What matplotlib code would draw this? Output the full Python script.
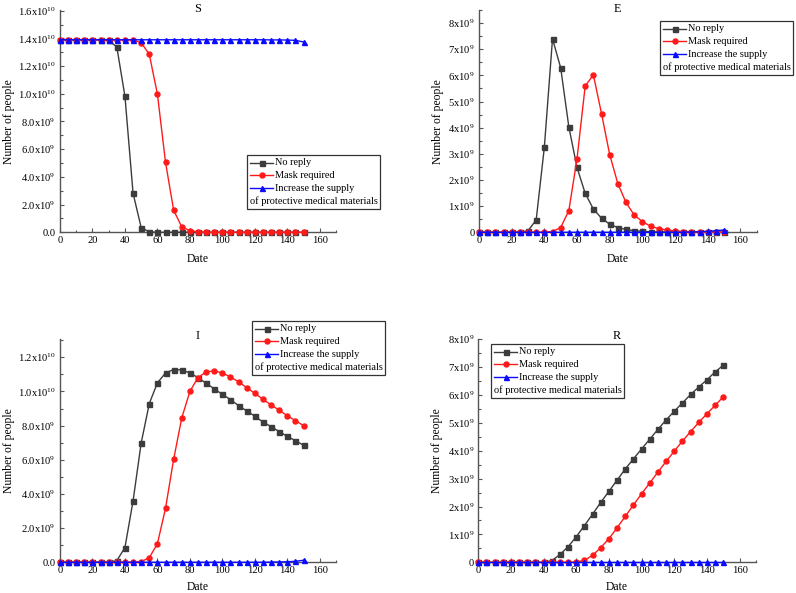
import matplotlib
matplotlib.use('Agg')
import matplotlib.pyplot as plt
from matplotlib.lines import Line2D
from matplotlib.offsetbox import AnchoredOffsetbox, VPacker, HPacker, DrawingArea, TextArea
from matplotlib.ticker import FixedLocator, FixedFormatter, MultipleLocator

plt.rcParams['font.family'] = ['Liberation Serif', 'DejaVu Serif']
plt.rcParams['mathtext.fontset'] = 'custom'
plt.rcParams['mathtext.rm'] = 'Liberation Serif'
plt.rcParams['mathtext.it'] = 'Liberation Serif:italic'

# ---------------- data (people, in units of 1e9) ----------------
UNIT = 1e9
days = list(range(0, 155, 5))

series_labels = ["No reply", "Mask required", "Increase the supply"]
legend_extra = "of protective medical materials"
series_colors = ["#3c3c3c", "#ff1a1a", "#0a0aff"]
series_markers = ["s", "o", "^"]

S_no_reply = [13.9, 13.9, 13.9, 13.9, 13.9, 13.9, 13.85, 13.38, 9.82, 2.82, 0.34, 0.03,
              0, 0, 0, 0, 0, 0, 0, 0, 0, 0, 0, 0, 0, 0, 0, 0, 0, 0, 0]
S_mask = [13.9, 13.9, 13.9, 13.9, 13.9, 13.9, 13.9, 13.9, 13.9, 13.88, 13.69, 12.85, 9.98,
          5.05, 1.59, 0.39, 0.12, 0.03, 0, 0, 0, 0, 0, 0, 0, 0, 0, 0, 0, 0, 0]
S_supply = [13.9, 13.9, 13.9, 13.9, 13.9, 13.9, 13.9, 13.9, 13.9, 13.9, 13.9, 13.9, 13.9,
            13.9, 13.9, 13.9, 13.9, 13.9, 13.9, 13.9, 13.9, 13.9, 13.9, 13.9, 13.9, 13.9,
            13.89, 13.89, 13.88, 13.86, 13.74]

E_no_reply = [0, 0, 0, 0, 0, 0, 0.06, 0.47, 3.25, 7.40, 6.29, 4.03, 2.48, 1.49, 0.89,
              0.54, 0.31, 0.18, 0.11, 0.06, 0.04, 0.02, 0.01, 0.01, 0.01, 0.01, 0.01,
              0.01, 0.01, 0.01, 0.01]
E_mask = [0, 0, 0, 0, 0, 0, 0, 0, 0, 0.03, 0.18, 0.83, 2.81, 5.59, 6.02, 4.54, 2.97,
          1.86, 1.14, 0.66, 0.41, 0.23, 0.14, 0.09, 0.05, 0.03, 0.02, 0.01, 0.01, 0, 0]
E_supply = [0, 0, 0, 0, 0, 0, 0, 0, 0, 0, 0, 0, 0, 0, 0, 0, 0, 0, 0, 0, 0, 0, 0, 0, 0,
            0, 0.01, 0.02, 0.04, 0.06, 0.09]

I_no_reply = [0, 0, 0, 0, 0, 0, 0, 0.1, 0.86, 3.59, 6.98, 9.29, 10.5, 11.08, 11.28,
              11.26, 11.08, 10.81, 10.48, 10.15, 9.83, 9.52, 9.17, 8.86, 8.55, 8.21,
              7.94, 7.65, 7.37, 7.12, 6.85]
I_mask = [0, 0, 0, 0, 0, 0, 0, 0, 0, 0, 0.04, 0.27, 1.09, 3.16, 6.03, 8.45, 10.0, 10.81,
          11.14, 11.2, 11.08, 10.85, 10.56, 10.22, 9.89, 9.54, 9.21, 8.9, 8.58, 8.29, 8.0]
I_supply = [0, 0, 0, 0, 0, 0, 0, 0, 0, 0, 0, 0, 0, 0, 0, 0, 0, 0, 0, 0, 0, 0, 0, 0, 0,
            0, 0.01, 0.02, 0.03, 0.06, 0.12]

R_no_reply = [0, 0, 0, 0, 0, 0, 0, 0, 0, 0.06, 0.28, 0.56, 0.92, 1.32, 1.73, 2.15, 2.55,
              2.95, 3.35, 3.71, 4.07, 4.42, 4.77, 5.11, 5.42, 5.72, 6.02, 6.29, 6.55,
              6.83, 7.07]
R_mask = [0, 0, 0, 0, 0, 0, 0, 0, 0, 0, 0, 0, 0.01, 0.07, 0.25, 0.53, 0.85, 1.24, 1.65,
          2.06, 2.46, 2.85, 3.24, 3.62, 3.99, 4.35, 4.69, 5.02, 5.33, 5.63, 5.94]
R_supply = [0] * 31

x_ticks = [0, 20, 40, 60, 80, 100, 120, 140, 160]

yt_S = [0, 2, 4, 6, 8, 10, 12, 14, 16]
yl_S = ['0.0', r'$\mathregular{2.0x10^{9}}$', r'$\mathregular{4.0x10^{9}}$',
        r'$\mathregular{6.0x10^{9}}$', r'$\mathregular{8.0x10^{9}}$',
        r'$\mathregular{1.0x10^{10}}$', r'$\mathregular{1.2x10^{10}}$',
        r'$\mathregular{1.4x10^{10}}$', r'$\mathregular{1.6x10^{10}}$']
yt_E = [0, 1, 2, 3, 4, 5, 6, 7, 8]
yl_E = ['0'] + [r'$\mathregular{%dx10^{9}}$' % k for k in range(1, 9)]
yt_I = [0, 2, 4, 6, 8, 10, 12]
yl_I = ['0.0', r'$\mathregular{2.0x10^{9}}$', r'$\mathregular{4.0x10^{9}}$',
        r'$\mathregular{6.0x10^{9}}$', r'$\mathregular{8.0x10^{9}}$',
        r'$\mathregular{1.0x10^{10}}$', r'$\mathregular{1.2x10^{10}}$']
yt_R = [0, 1, 2, 3, 4, 5, 6, 7, 8]
yl_R = ['0'] + [r'$\mathregular{%dx10^{9}}$' % k for k in range(1, 9)]

# ---------------- layout ----------------
W, H = 796, 593
fig = plt.figure(figsize=(W / 100, H / 100), dpi=100)


def rect(l, r, t, b):
    return [l / W, 1 - b / H, (r - l) / W, (b - t) / H]


panels = [
    dict(title="S", rect=rect(60, 336, 10, 232.3), ylim=16.05, yt=yt_S, yl=yl_S, minor=1,
         data=[S_no_reply, S_mask, S_supply], leg=(247, 155), ylab_x=-0.162, xlab_y=-0.093,
         ty=0.99),
    dict(title="E", rect=rect(479, 756.7, 10, 232.3), ylim=8.5, yt=yt_E, yl=yl_E, minor=0.5,
         data=[E_no_reply, E_mask, E_supply], leg=(660, 21), ylab_x=-0.126, xlab_y=-0.093,
         ty=0.99),
    dict(title="I", rect=rect(60, 336, 339.3, 562.3), ylim=13.05, yt=yt_I, yl=yl_I, minor=1,
         data=[I_no_reply, I_mask, I_supply], leg=(252, 321), ylab_x=-0.162, xlab_y=-0.084,
         ty=1.0),
    dict(title="R", rect=rect(478.3, 756, 339.3, 562.3), ylim=8.0, yt=yt_R, yl=yl_R, minor=0.5,
         data=[R_no_reply, R_mask, R_supply], leg=(491, 344), ylab_x=-0.126, xlab_y=-0.084,
         ty=1.0),
]

SPINE = "#555555"
FS_TICK = 7.6
FS_LAB = 8.4
FS_LEG = 7.4


def add_legend(x_px, y_px):
    rows = []
    for color, marker, label in zip(series_colors, series_markers, series_labels):
        da = DrawingArea(17, 7, 0, 0)
        da.add_artist(Line2D([0, 17], [3.5, 3.5], color=color, lw=1.0))
        da.add_artist(Line2D([8.5], [3.5], marker=marker, color=color, mec=color,
                             ms=3.6, lw=0))
        ta = TextArea(label, textprops=dict(size=FS_LEG, color="black"))
        rows.append(HPacker(children=[da, ta], align="center", pad=0, sep=1.2))
    rows.append(HPacker(children=[TextArea(legend_extra, textprops=dict(size=FS_LEG))],
                        pad=0, sep=0))
    vp = VPacker(children=rows, align="left", pad=0, sep=2.2)
    box = AnchoredOffsetbox(loc="upper left", child=vp, pad=0.2, borderpad=0,
                            frameon=True, bbox_to_anchor=(x_px / W, 1 - y_px / H),
                            bbox_transform=fig.transFigure,
                            prop=dict(size=10))
    box.patch.set_boxstyle("square", pad=0)
    box.patch.set_edgecolor("#333333")
    box.patch.set_linewidth(0.9)
    fig.add_artist(box)


for p in panels:
    ax = fig.add_axes(p["rect"])
    for vals, color, marker, label in zip(p["data"], series_colors, series_markers,
                                          series_labels):
        ax.plot(days, [v * UNIT for v in vals], color=color, marker=marker, ms=3.6,
                mec=color, mfc=color, lw=1.0, label=label, clip_on=False, zorder=3)
    ax.set_xlim(0, 170)
    ax.set_ylim(0, p["ylim"] * UNIT)
    ax.xaxis.set_major_locator(FixedLocator(x_ticks))
    ax.xaxis.set_minor_locator(MultipleLocator(10))
    ax.yaxis.set_major_locator(FixedLocator([v * UNIT for v in p["yt"]]))
    ax.yaxis.set_major_formatter(FixedFormatter(p["yl"]))
    ax.yaxis.set_minor_locator(MultipleLocator(p["minor"] * UNIT))
    for s in ("top", "right"):
        ax.spines[s].set_visible(False)
    for s in ("left", "bottom"):
        ax.spines[s].set_color(SPINE)
        ax.spines[s].set_linewidth(1.0)
    ax.tick_params(which="both", direction="in", color=SPINE, width=0.8,
                   labelsize=FS_TICK)
    ax.tick_params(which="major", length=3.2, pad=3)
    ax.tick_params(which="minor", length=1.8)
    ax.set_title(p["title"], fontsize=8.8, pad=0, y=p["ty"])
    ax.set_xlabel("Date", fontsize=FS_LAB)
    ax.set_ylabel("Number of people", fontsize=FS_LAB)
    ax.xaxis.set_label_coords(0.5, p["xlab_y"])
    ax.yaxis.set_label_coords(p["ylab_x"], 0.5)
    add_legend(*p["leg"])

fig.savefig("out.png", dpi=100)
